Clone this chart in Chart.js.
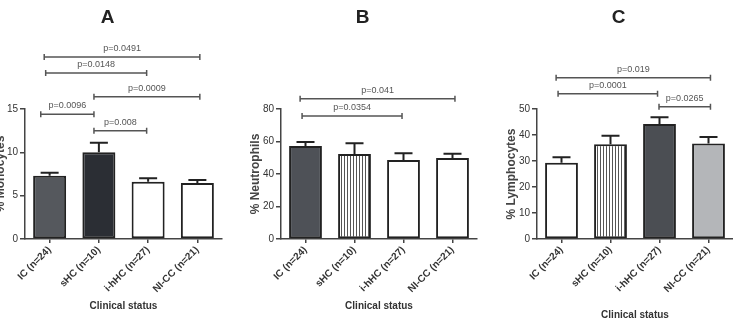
<!DOCTYPE html>
<html lang="en">
<head>
<meta charset="UTF-8">
<title>Leukocyte subsets by clinical status</title>
<script src="https://cdn.jsdelivr.net/npm/chart.js"></script>
<style>
  html, body { margin: 0; padding: 0; background: #fff; }
  body { position: relative; width: 733px; height: 321px; overflow: hidden; }
  .panel { position: absolute; top: 0; height: 321px; }
</style>
</head>
<body>

<div class="panel" style="left:-7px;width:260px"><canvas id="chartA" width="260" height="321"></canvas></div>
<div class="panel" style="left:248px;width:240px"><canvas id="chartB" width="240" height="321"></canvas></div>
<div class="panel" style="left:504px;width:268px"><canvas id="chartC" width="268" height="321"></canvas></div>

<script>
  // categories shared by the three panels
  const categories = ['IC (n=24)', 'sHC (n=10)', 'i-hHC (n=27)', 'NI-CC (n=21)'];

  // A - monocytes (mean and SEM, %)
  const monoMean = [7.3, 10.0, 6.6, 6.45];
  const monoSem = [0.35, 1.1, 0.4, 0.35];
  const monoBrackets = [
    { from: -0.11, to: 3.05, y: 21.0, label: 'p=0.0491' },
    { from: -0.08, to: 1.97, y: 19.15, label: 'p=0.0148' },
    { from: 0.9, to: 3.05, y: 16.4, label: 'p=0.0009' },
    { from: -0.18, to: 0.9, y: 14.4, label: 'p=0.0096' },
    { from: 0.9, to: 1.97, y: 12.5, label: 'p=0.008' }
  ];

  // B - neutrophils
  const neutMean = [57.2, 52.3, 48.6, 49.8];
  const neutSem = [2.5, 6.6, 4.1, 2.7];
  const neutBrackets = [
    { from: -0.11, to: 3.05, y: 86.3, label: 'p=0.041' },
    { from: -0.07, to: 1.97, y: 75.7, label: 'p=0.0354' }
  ];

  // C - lymphocytes
  const lymphMean = [29.3, 36.4, 44.2, 36.7];
  const lymphSem = [2.1, 3.3, 2.6, 2.5];
  const lymphBrackets = [
    { from: -0.11, to: 3.04, y: 62.0, label: 'p=0.019' },
    { from: -0.07, to: 1.96, y: 55.9, label: 'p=0.0001' },
    { from: 1.99, to: 3.04, y: 50.9, label: 'p=0.0265' }
  ];

  Chart.defaults.font.family = 'Arial, "Liberation Sans", Helvetica, sans-serif';

  // vertical stripes for the sHC bars
  function stripes() {
    const c = document.createElement('canvas');
    c.width = 3; c.height = 4;
    const g = c.getContext('2d');
    g.fillStyle = '#fff';
    g.fillRect(0, 0, 3, 4);
    g.fillStyle = '#555';
    g.fillRect(0, 0, 1, 4);
    return g.createPattern(c, 'repeat');
  }

  // error bars (upper SEM) and significance brackets
  function overlay(mean, sem, brackets) {
    return {
      id: 'overlay',
      afterDatasetsDraw(chart) {
        const ctx = chart.ctx;
        const x = chart.scales.x, y = chart.scales.y;
        const x0 = x.getPixelForValue(0);
        const step = x.getPixelForValue(1) - x0;
        const xAt = v => x0 + v * step;

        ctx.save();
        ctx.strokeStyle = '#222';
        ctx.lineWidth = 2;
        mean.forEach((m, i) => {
          const cx = x.getPixelForValue(i);
          const top = y.getPixelForValue(m);
          const end = y.getPixelForValue(m + sem[i]);
          ctx.beginPath();
          ctx.moveTo(cx, top);
          ctx.lineTo(cx, end);
          ctx.moveTo(cx - 9, end);
          ctx.lineTo(cx + 9, end);
          ctx.stroke();
        });

        ctx.strokeStyle = '#555';
        ctx.fillStyle = '#555';
        ctx.lineWidth = 1.5;
        ctx.font = '9px Arial, "Liberation Sans", sans-serif';
        ctx.textAlign = 'center';
        ctx.textBaseline = 'bottom';
        brackets.forEach(b => {
          const a = xAt(b.from), e = xAt(b.to), py = y.getPixelForValue(b.y);
          ctx.beginPath();
          ctx.moveTo(a, py); ctx.lineTo(e, py);
          ctx.moveTo(a, py - 3); ctx.lineTo(a, py + 3);
          ctx.moveTo(e, py - 3); ctx.lineTo(e, py + 3);
          ctx.stroke();
          ctx.fillText(b.label, (a + e) / 2, py - 4);
        });
        ctx.restore();
      }
    };
  }

  function panel(id, p) {
    const ctx = document.getElementById(id).getContext('2d');
    return new Chart(ctx, {
      type: 'bar',
      data: {
        labels: categories,
        datasets: [{
          data: p.mean,
          backgroundColor: p.colors,
          borderColor: '#222',
          borderWidth: 2,
          borderSkipped: false,
          barPercentage: 0.67,
          categoryPercentage: 1
        }]
      },
      options: {
        responsive: false,
        animation: false,
        layout: { padding: { left: 0, right: p.right, top: 0, bottom: 0 } },
        plugins: {
          legend: { display: false },
          tooltip: { enabled: false },
          title: {
            display: true,
            text: p.title,
            color: '#222',
            font: { size: 19, weight: 'bold' },
            padding: { top: 6.6, bottom: 79.6 }
          }
        },
        scales: {
          x: {
            offset: true,
            grid: { offset: false, drawOnChartArea: false, tickLength: 4, color: '#444', lineWidth: 1.5 },
            border: { color: '#444', width: 1.5 },
            ticks: { autoSkip: false, minRotation: 45, maxRotation: 45, padding: 1, color: '#333', font: { size: 10, weight: 'bold' } },
            title: { display: true, text: 'Clinical status', color: '#333', font: { size: 10, weight: 'bold' }, padding: { top: 0, bottom: p.xTitlePad } },
            afterFit: s => { s.height = 82; }
          },
          y: {
            min: 0,
            max: p.max,
            ticks: { stepSize: p.step, padding: 2, color: '#333', font: { size: 10 } },
            grid: { drawOnChartArea: false, tickLength: 5, color: '#444', lineWidth: 1.5 },
            border: { color: '#444', width: 1.5 },
            title: { display: true, text: p.yTitle, color: '#444', font: { size: 12, weight: 'bold' }, padding: 0 },
            afterFit: s => { s.width = p.yWidth; }
          }
        }
      },
      plugins: [overlay(p.mean, p.sem, p.brackets)]
    });
  }

  const striped = stripes();

  panel('chartA', {
    title: 'A', yTitle: '% Monocytes', max: 15, step: 5,
    mean: monoMean, sem: monoSem, brackets: monoBrackets,
    colors: ['#55585d', '#2b2e34', '#ffffff', '#ffffff'],
    yWidth: 32, right: 31, xTitlePad: 9
  });

  panel('chartB', {
    title: 'B', yTitle: '% Neutrophils', max: 80, step: 20,
    mean: neutMean, sem: neutSem, brackets: neutBrackets,
    colors: ['#4e5157', striped, '#ffffff', '#ffffff'],
    yWidth: 33, right: 11, xTitlePad: 9
  });

  panel('chartC', {
    title: 'C', yTitle: '% Lymphocytes', max: 50, step: 10,
    mean: lymphMean, sem: lymphSem, brackets: lymphBrackets,
    colors: ['#ffffff', striped, '#4b4e53', '#b4b6b9'],
    yWidth: 33, right: 39, xTitlePad: 0
  });
</script>

</body>
</html>
